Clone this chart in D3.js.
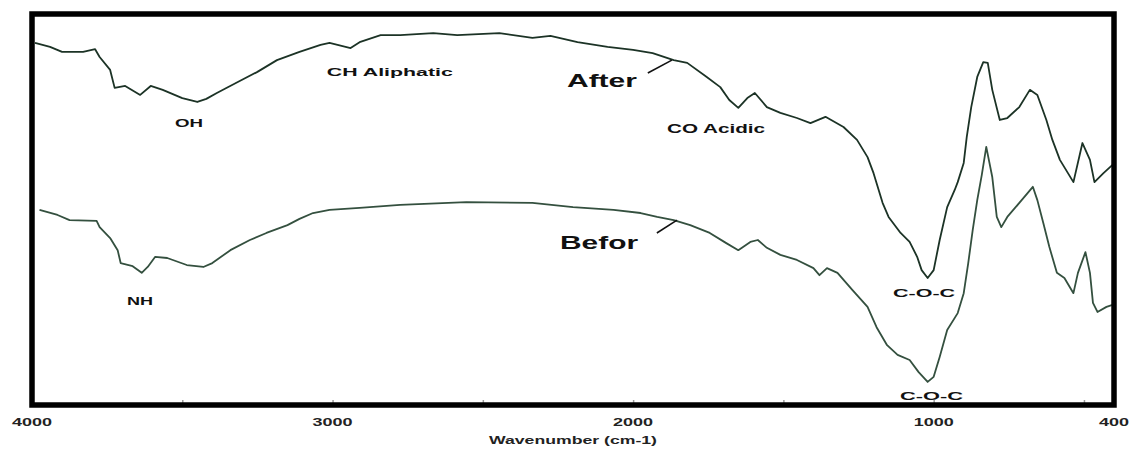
<!DOCTYPE html>
<html>
<head>
<meta charset="utf-8">
<script src="https://cdn.jsdelivr.net/npm/d3@7"></script>
<style>
  body { margin: 0; background: #fff; }
  svg { display: block; }
</style>
</head>
<body>
<div class="canvas"></div>
<script>
// !--------------------------------------------------------------data content below

// wavenumber (cm-1) and transmittance (a.u.)
const afterWave = [3990, 3940, 3900, 3830, 3790, 3775, 3740, 3725, 3690, 3640, 3605, 3565, 3500, 3450, 3420, 3385, 3320, 3250, 3185, 3110, 3040, 3010, 2940, 2910, 2840, 2775, 2665, 2585, 2445, 2335, 2275, 2185, 2085, 2000, 1935, 1865, 1820, 1755, 1710, 1680, 1650, 1620, 1595, 1555, 1510, 1455, 1410, 1360, 1300, 1255, 1220, 1200, 1170, 1150, 1110, 1080, 1055, 1040, 1020, 1000, 980, 955, 930, 920, 900, 890, 875, 855, 835, 820, 805, 780, 755, 715, 680, 655, 625, 605, 580, 535, 505, 480, 465, 435, 405];
const afterT = [92.6, 91.6, 90.3, 90.3, 91.0, 89.0, 85.7, 81.1, 81.6, 79.3, 81.6, 80.6, 78.5, 77.5, 78.3, 79.8, 82.4, 85.2, 88.2, 90.3, 92.1, 92.6, 91.3, 92.8, 94.6, 94.6, 95.1, 94.6, 95.1, 93.9, 94.4, 92.8, 91.6, 90.8, 90.0, 88.2, 87.5, 83.9, 81.3, 78.0, 76.0, 78.5, 79.8, 76.2, 74.7, 73.4, 72.1, 73.7, 71.1, 67.8, 63.4, 59.3, 51.7, 48.1, 44.0, 41.7, 37.9, 34.5, 32.5, 34.5, 42.2, 50.6, 55.0, 57.0, 61.9, 68.5, 76.2, 83.9, 87.7, 87.5, 80.6, 72.9, 73.4, 76.2, 80.6, 79.3, 72.9, 67.8, 62.7, 57.0, 67.0, 62.7, 57.0, 59.3, 61.4];

const beforeWave = [3975, 3915, 3875, 3785, 3775, 3740, 3715, 3705, 3665, 3635, 3615, 3590, 3550, 3485, 3430, 3400, 3340, 3275, 3220, 3150, 3110, 3065, 3010, 2910, 2775, 2555, 2335, 2200, 2065, 1975, 1920, 1865, 1810, 1745, 1690, 1650, 1610, 1585, 1555, 1510, 1455, 1400, 1380, 1355, 1320, 1270, 1220, 1190, 1155, 1120, 1080, 1050, 1020, 1000, 980, 955, 920, 900, 885, 870, 855, 840, 825, 805, 790, 775, 755, 715, 670, 655, 635, 615, 590, 565, 535, 520, 495, 480, 470, 455, 425, 405];
const beforeT = [49.9, 48.6, 47.3, 47.1, 45.5, 42.7, 39.6, 36.3, 35.5, 33.8, 35.3, 37.9, 37.6, 35.8, 35.3, 36.3, 39.6, 42.2, 44.0, 46.0, 47.6, 49.1, 49.9, 50.4, 51.2, 51.9, 51.7, 50.6, 49.9, 49.1, 48.1, 47.3, 46.0, 44.0, 41.4, 39.6, 41.7, 42.2, 40.2, 38.4, 37.1, 35.0, 33.2, 35.0, 33.8, 29.4, 25.1, 19.9, 15.3, 12.8, 11.5, 8.4, 5.9, 7.2, 12.3, 19.2, 23.5, 28.6, 36.3, 44.8, 52.4, 58.8, 66.0, 58.3, 48.1, 45.5, 48.1, 51.7, 55.8, 52.4, 46.5, 40.4, 33.8, 32.5, 28.6, 33.8, 39.1, 33.8, 26.1, 23.8, 25.1, 25.6];

// axis
const tickLabels = [4000, 3000, 2000, 1000, 400];
const minorTicks = [3500, 3000, 2500, 2000, 1500, 1000, 500];
const xTitle = 'Wavenumber (cm-1)';

// band / series labels
const labelTexts = ['OH', 'CH Aliphatic', 'After', 'CO Acidic', 'NH', 'Befor', 'C-O-C', 'C-O-C'];

// !----------------------------------------------------------graph content below

const dims = { width: 1136, height: 449, fontFamily: 'Liberation Sans, Arial, sans-serif' };
const margin = { top: 14, right: 22, bottom: 44, left: 32 };
const inner = {
  width: dims.width - margin.left - margin.right,
  height: dims.height - margin.top - margin.bottom
};

const svg = d3
  .select('.canvas')
  .append('svg')
  .attr('width', dims.width)
  .attr('height', dims.height);

const graph = svg
  .append('g')
  .attr('transform', `translate(${margin.left}, ${margin.top})`);

const x = d3.scaleLinear().domain([4000, 400]).range([0, inner.width]);
const y = d3.scaleLinear().domain([0, 100]).range([inner.height, 0]);

const line = d3
  .line()
  .x((d) => x(d.w))
  .y((d) => y(d.t));

const toPoints = (wave, t) => wave.map((w, i) => ({ w: w, t: t[i] }));

// spectra
graph
  .append('path')
  .datum(toPoints(beforeWave, beforeT))
  .attr('fill', 'none')
  .attr('stroke', '#34503f')
  .attr('stroke-width', 1.8)
  .attr('stroke-linejoin', 'round')
  .attr('d', line);

graph
  .append('path')
  .datum(toPoints(afterWave, afterT))
  .attr('fill', 'none')
  .attr('stroke', '#1c3326')
  .attr('stroke-width', 1.8)
  .attr('stroke-linejoin', 'round')
  .attr('d', line);

// leader lines for After / Befor
const leaders = [
  [{ w: 1951, t: 84.9 }, { w: 1871, t: 88.2 }],
  [{ w: 1921, t: 44.0 }, { w: 1854, t: 47.3 }]
];
leaders.forEach((pts) => {
  graph
    .append('path')
    .datum(pts)
    .attr('fill', 'none')
    .attr('stroke', '#111')
    .attr('stroke-width', 1.6)
    .attr('d', line);
});

// minor ticks (inside, on the bottom frame)
const minorAxis = d3.axisBottom(x).tickValues(minorTicks).tickSize(-5).tickFormat('');
graph
  .append('g')
  .attr('transform', `translate(0, ${inner.height})`)
  .call(minorAxis)
  .call((g) => g.select('.domain').remove())
  .selectAll('line')
  .attr('stroke', '#999')
  .attr('stroke-width', 1.5);

// frame
graph
  .append('rect')
  .attr('x', 0)
  .attr('y', 0)
  .attr('width', inner.width)
  .attr('height', inner.height)
  .attr('fill', 'none')
  .attr('stroke', '#000')
  .attr('stroke-width', 5.5);

// tick labels (the scan is stretched sideways, so text is too)
graph
  .selectAll('.tick-label')
  .data(tickLabels)
  .enter()
  .append('text')
  .attr('class', 'tick-label')
  .attr('x', (d) => x(d))
  .attr('y', inner.height + 21)
  .attr('text-anchor', 'middle')
  .attr('font-family', dims.fontFamily)
  .attr('font-weight', 'bold')
  .attr('font-size', 10)
  .attr('fill', '#222')
  .attr('textLength', (d) => (d === 400 ? 30 : 40))
  .attr('lengthAdjust', 'spacingAndGlyphs')
  .text((d) => d);

graph
  .append('text')
  .attr('x', inner.width / 2)
  .attr('y', inner.height + 39)
  .attr('text-anchor', 'middle')
  .attr('font-family', dims.fontFamily)
  .attr('font-weight', 'bold')
  .attr('font-size', 10)
  .attr('fill', '#222')
  .attr('textLength', 168)
  .attr('lengthAdjust', 'spacingAndGlyphs')
  .text(xTitle);

// band labels: left edge wavenumber, baseline transmittance, stretched width, size
const labelLayout = [
  { w: 3524, t: 71.1, len: 28, size: 11 },
  { w: 3019, t: 84.1, len: 126, size: 11 },
  { w: 2220, t: 81.3, len: 70, size: 18 },
  { w: 1887, t: 69.6, len: 98, size: 12 },
  { w: 3684, t: 25.6, len: 26, size: 11 },
  { w: 2243, t: 39.9, len: 78, size: 18 },
  { w: 1135, t: 27.6, len: 62, size: 11 },
  { w: 1112, t: 1.3, len: 63, size: 11 }
];

graph
  .selectAll('.band-label')
  .data(labelTexts)
  .enter()
  .append('text')
  .attr('class', 'band-label')
  .attr('x', (d, i) => x(labelLayout[i].w))
  .attr('y', (d, i) => y(labelLayout[i].t))
  .attr('font-family', dims.fontFamily)
  .attr('font-weight', 'bold')
  .attr('font-size', (d, i) => labelLayout[i].size)
  .attr('fill', '#111')
  .attr('textLength', (d, i) => labelLayout[i].len)
  .attr('lengthAdjust', 'spacingAndGlyphs')
  .text((d) => d);
</script>
</body>
</html>
